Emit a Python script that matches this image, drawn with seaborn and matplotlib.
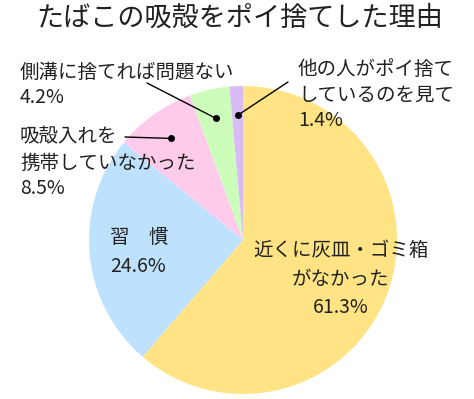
import numpy as np
import matplotlib
matplotlib.use("Agg")
import matplotlib.pyplot as plt
import seaborn as sns

# データ
categories = ["近くに灰皿・ゴミ箱\nがなかった", "習　慣", "吸殻入れを\n携帯していなかった",
              "側溝に捨てれば問題ない", "他の人がポイ捨て\nしているのを見て"]
values = [61.3, 24.6, 8.5, 4.2, 1.4]
colors = ["#FFE384", "#BEE1FD", "#FECCEA", "#CDFDBB", "#D9BCF6"]
title = "たばこの吸殻をポイ捨てした理由"

sns.set_theme(style="white")
plt.rcParams['font.family'] = ['Noto Sans CJK JP', 'DejaVu Sans']

W, H = 474, 399
fig = plt.figure(figsize=(W / 100, H / 100), dpi=100)
ax = fig.add_axes([0, 0, 1, 1])

cx, cy, r = 243, H - 240, 154
wedges, _ = ax.pie(values, colors=colors, startangle=90, counterclock=False,
                   center=(cx, cy), radius=r, frame=True,
                   wedgeprops=dict(linewidth=0))
ax.set_xlim(0, W)
ax.set_ylim(0, H)
ax.set_aspect("equal")
ax.axis("off")

txt = "#222222"
fs = 14

ax.text(240, H - 18, title, ha="center", va="center", fontsize=19.5, color=txt)

# 近くに灰皿・ゴミ箱がなかった
ax.text(341, H - 279, f"{categories[0]}\n{values[0]}%", ha="center", va="center",
        fontsize=fs, color=txt, linespacing=1.45)
# 習慣
ax.text(110, H - 252, f"{categories[1]}\n{values[1]}%", ha="left", va="center",
        fontsize=fs, color=txt, linespacing=1.45)
# 吸殻入れを携帯していなかった
ax.text(20, H - 163, f"{categories[2]}\n{values[2]}%", ha="left", va="center",
        fontsize=fs, color=txt, linespacing=1.3)
# 側溝に捨てれば問題ない
ax.text(20, H - 85, f"{categories[3]}\n{values[3]}%", ha="left", va="center",
        fontsize=fs, color=txt, linespacing=1.3)
# 他の人がポイ捨てしているのを見て
ax.text(298, H - 95, f"{categories[4]}\n{values[4]}%", ha="left", va="center",
        fontsize=fs, color=txt, linespacing=1.3)

# 引き出し線
def mid_point(w, frac=0.81):
    ang = np.deg2rad((w.theta1 + w.theta2) / 2)
    return cx + frac * r * np.cos(ang), cy + frac * r * np.sin(ang)

leaders = [(2, (125, H - 137)), (3, (147, H - 83)), (4, (288, H - 82))]
for i, (lx, ly) in leaders:
    px, py = mid_point(wedges[i])
    ax.plot([lx, px], [ly, py], color="black", lw=1)
    ax.plot(px, py, "o", color="black", ms=4)

plt.savefig("out.png", dpi=100)
